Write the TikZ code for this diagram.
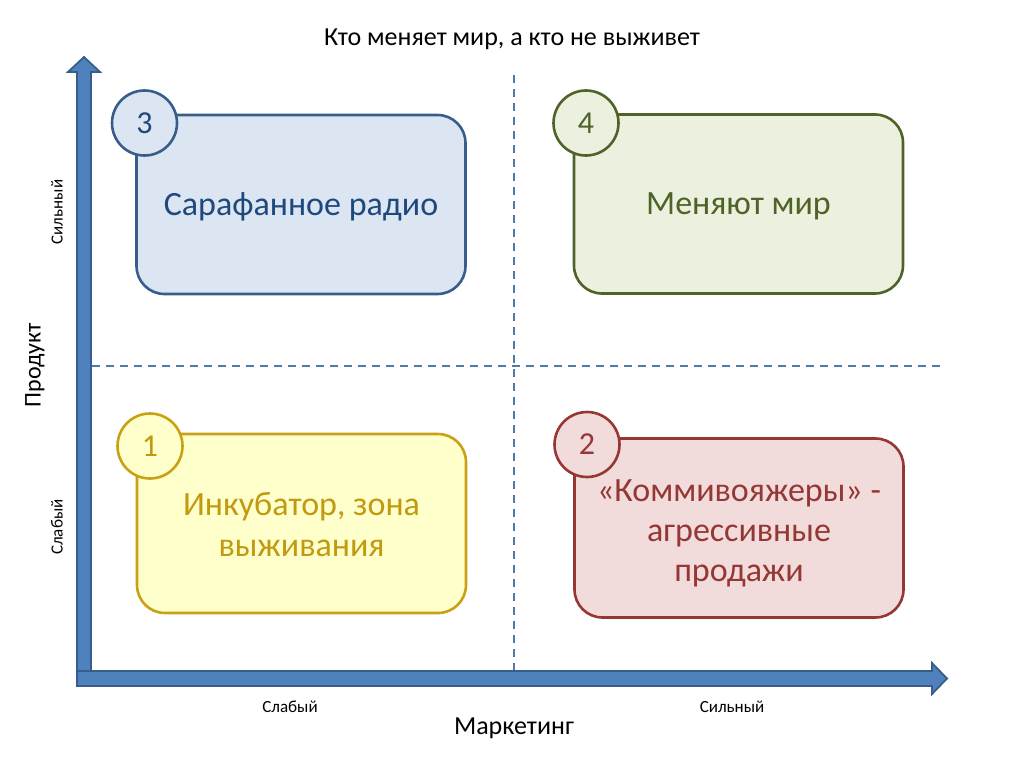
\documentclass[tikz,border=0pt]{standalone}
\usepackage{fontspec}
\setmainfont{Carlito}
\definecolor{axfill}{HTML}{4F81BD}
\definecolor{axline}{HTML}{385D8A}
\definecolor{dashc}{HTML}{4F7BA4}
\definecolor{bfill}{HTML}{DCE6F2}
\definecolor{bline}{HTML}{385D8A}
\definecolor{btext}{HTML}{1F497D}
\definecolor{gfill}{HTML}{EBF1DE}
\definecolor{gline}{HTML}{4F6228}
\definecolor{yfill}{HTML}{FFFFCC}
\definecolor{yline}{HTML}{C9A114}
\definecolor{ytext}{HTML}{C29A10}
\definecolor{rfill}{HTML}{F2DCDB}
\definecolor{rline}{HTML}{953735}
\tikzset{
  quad/.style={draw, line width=2.6pt, rounded corners=28pt, minimum width=329pt, minimum height=179pt, inner sep=0pt},
  quadtext/.style={align=center, inner sep=0pt, font=\fontsize{34}{41}\selectfont},
  numc/.style={draw, circle, line width=2.6pt, minimum size=65pt, inner sep=0pt, font=\fontsize{32}{32}\selectfont},
  axisarrow/.style={fill=axfill, draw=axline, line width=1.8pt, line join=miter},
  divider/.style={dashc, line width=1.6pt, dash pattern=on 8pt off 6pt},
  smalllab/.style={font=\fontsize{17}{17}\selectfont, inner sep=0pt},
  biglab/.style={font=\fontsize{26}{26}\selectfont, inner sep=0pt}
}
\begin{document}
\begin{tikzpicture}[x=1pt,y=-1pt]
\useasboundingbox (0,0) rectangle (1019,765);
% dividers
\coordinate (vt) at (514,75);
\coordinate (vb) at (514,686);
\coordinate (hl) at (92,366);
\coordinate (hr) at (940,366);
\draw[divider] (vt) -- (vb);
\draw[divider] (hl) -- (hr);
% axes
\draw[axisarrow] (77,686) -- (77,72) -- (68,72) -- (84,57) -- (100,72) -- (91,72) -- (91,686) -- cycle;
\draw[axisarrow] (77,671) -- (932,671) -- (932,663) -- (947,678.5) -- (932,694) -- (932,686) -- (77,686) -- cycle;
% boxes
\node[quad, fill=bfill, draw=bline] (b3) at (301,204.5) {};
\node[quad, fill=gfill, draw=gline] (b4) at (738.5,204) {};
\node[quad, fill=yfill, draw=yline] (b1) at (301.5,523.5) {};
\node[quad, fill=rfill, draw=rline] (b2) at (739,528) {};
\node[quadtext, text=btext] (t3) at (301,207) {Сарафанное радио};
\node[quadtext, text=gline] (t4) at (738.5,206) {Меняют мир};
\node[quadtext, text=ytext] (t1) at (301.5,525) {Инкубатор, зона\\выживания};
\node[quadtext, text=rline, font=\fontsize{34}{40}\selectfont] (t2) at (739,533) {«Коммивояжеры» -\\агрессивные\\продажи};
\node[numc, fill=bfill, draw=bline, text=btext] (c3) at (144.5,123) {3};
\node[numc, fill=gfill, draw=gline, text=gline] (c4) at (586,123) {4};
\node[numc, fill=yfill, draw=yline, text=ytext] (c1) at (150,446) {1};
\node[numc, fill=rfill, draw=rline, text=rline] (c2) at (587,444.5) {2};
% labels
\node[biglab] (title) at (512,39) {Кто меняет мир, а кто не выживет};
\node[biglab] (mk) at (514,728) {Маркетинг};
\node[biglab, rotate=90, font=\fontsize{24}{24}\selectfont] (pr) at (35,365) {Продукт};
\node[smalllab] (xs) at (290,707) {Слабый};
\node[smalllab] (xst) at (732,707) {Сильный};
\node[smalllab, rotate=90] (ys) at (57,212) {Сильный};
\node[smalllab, rotate=90] (yw) at (57,527) {Слабый};
\end{tikzpicture}
\end{document}
